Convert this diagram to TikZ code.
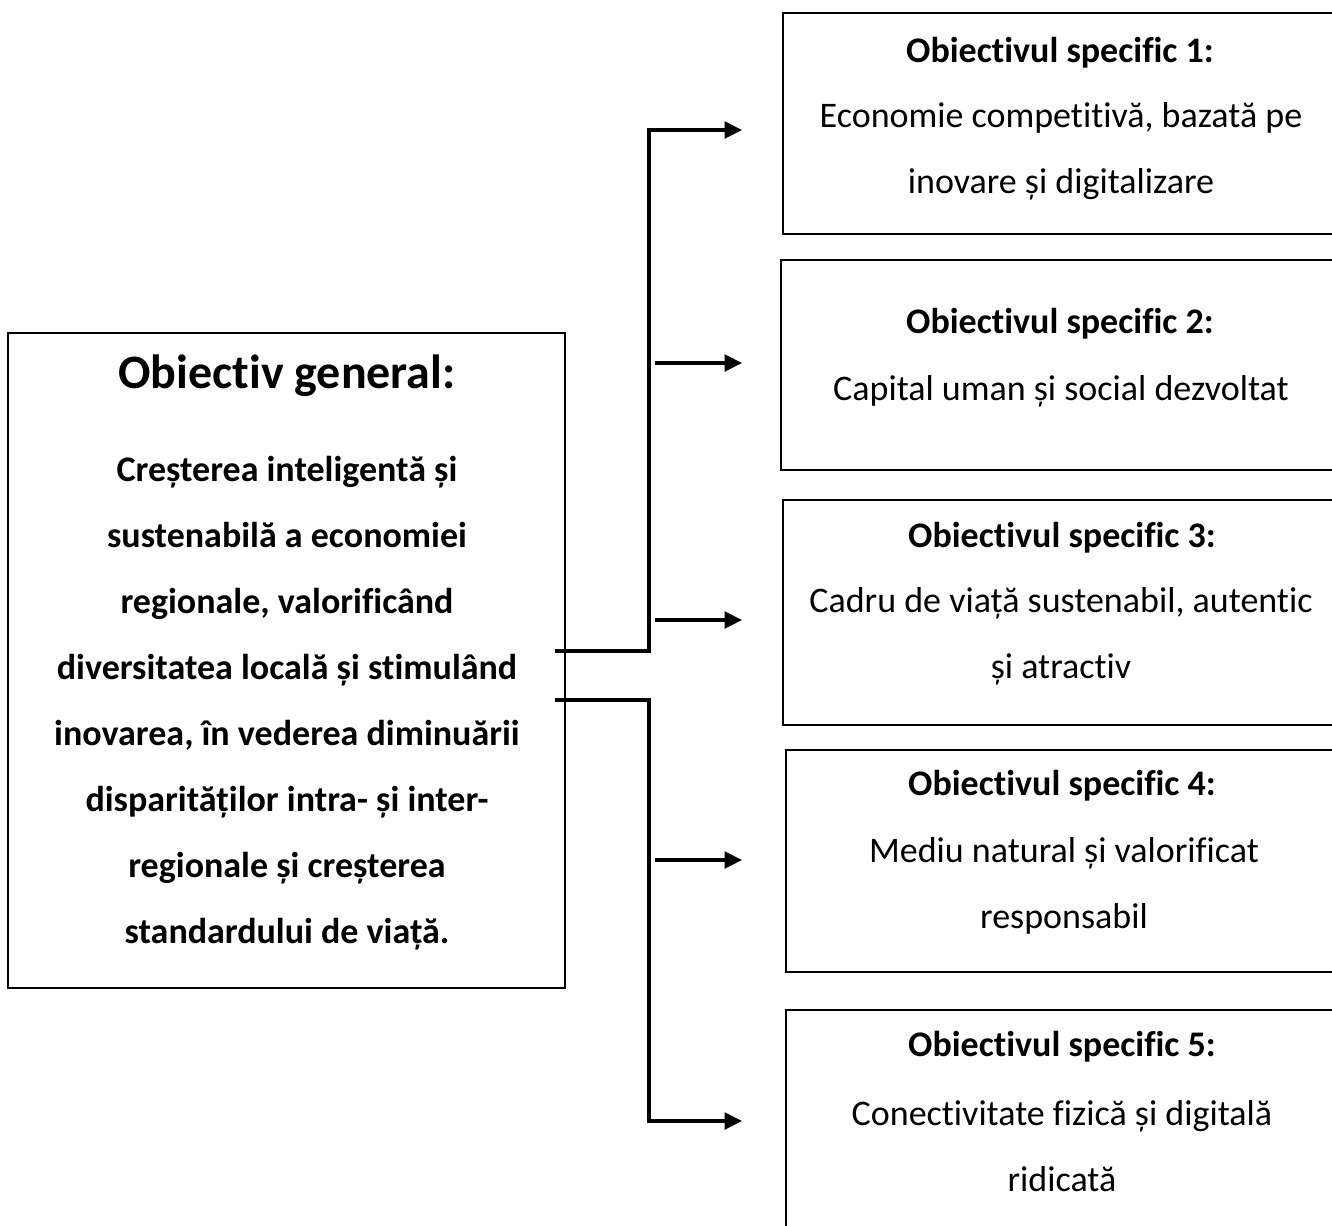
\documentclass[tikz,border=0pt]{standalone}
\usepackage{fontspec}
\setmainfont{Carlito}[Ligatures=CommonOff]
\usetikzlibrary{arrows.meta,fit}
\begin{document}
\begin{tikzpicture}[x=0.75pt,y=-0.75pt,
  box/.style={draw=black, line width=1.9pt, inner sep=0pt},
  ttl/.style={font=\fontsize{27}{49.5}\selectfont\bfseries, inner sep=0pt, anchor=center},
  bodytxt/.style={font=\fontsize{27}{49.5}\selectfont, align=center, inner sep=0pt, anchor=center},
  gttl/.style={font=\fontsize{36}{44}\selectfont\bfseries, inner sep=0pt, anchor=center},
  gbody/.style={font=\fontsize{27}{49.5}\selectfont\bfseries, align=center, inner sep=0pt, anchor=center},
  conn/.style={line width=2.4pt, -{Triangle[length=13pt,width=12.5pt]}},
]
\useasboundingbox (0,0) rectangle (1332,1225);
\clip (0,0) rectangle (1332,1225);

% general box
\node[box, fit={(8,333) (565,988)}] (gen) {};
\node[gttl] (gt) at (287,376) {Obiectiv general:};
\node[gbody] (gb) at (287,703) {Creșterea inteligentă și\\sustenabilă a economiei\\regionale, valorificând\\diversitatea locală și stimulând\\inovarea, în vederea diminuării\\disparităților intra- și inter-\\regionale și creșterea\\standardului de viață.};

% specific boxes
\node[box, fit={(783,13) (1345,234)}] (s1) {};
\node[box, fit={(781,260) (1345,470)}] (s2) {};
\node[box, fit={(783,500) (1345,725)}] (s3) {};
\node[box, fit={(786,750) (1345,972)}] (s4) {};
\node[box, fit={(786,1010) (1345,1245)}] (s5) {};

\node[ttl] (t1) at (1060,53) {Obiectivul specific 1:};
\node[bodytxt] (b1) at (1061,151) {Economie competitivă, bazată pe\\inovare și digitalizare};
\node[ttl] (t2) at (1060,324) {Obiectivul specific 2:};
\node[bodytxt] (b2) at (1061,391) {Capital uman și social dezvoltat};
\node[ttl] (t3) at (1062,538) {Obiectivul specific 3:};
\node[bodytxt] (b3) at (1061,636.5) {Cadru de viață sustenabil, autentic\\și atractiv};
\node[ttl] (t4) at (1062,786) {Obiectivul specific 4:};
\node[bodytxt] (b4) at (1064,886) {Mediu natural și valorificat\\responsabil};
\node[ttl] (t5) at (1062,1047) {Obiectivul specific 5:};
\node[bodytxt] (b5) at (1062,1146.5) {Conectivitate fizică și digitală\\ridicată};

% connector coordinates
\coordinate (g1) at (555,651);
\coordinate (g2) at (555,700);
\coordinate (v1) at (649,130);
\coordinate (v2) at (649,1121);
\coordinate (a1) at (742,130);
\coordinate (a5) at (742,1121);
\coordinate (f2) at (655,363);
\coordinate (a2) at (742,363);
\coordinate (f3) at (655,620);
\coordinate (a3) at (742,620);
\coordinate (f4) at (655,860);
\coordinate (a4) at (742,860);

\draw[conn] (g1) -| (v1) -- (a1);
\draw[conn] (g2) -| (v2) -- (a5);
\draw[conn] (f2) -- (a2);
\draw[conn] (f3) -- (a3);
\draw[conn] (f4) -- (a4);
\end{tikzpicture}
\end{document}
